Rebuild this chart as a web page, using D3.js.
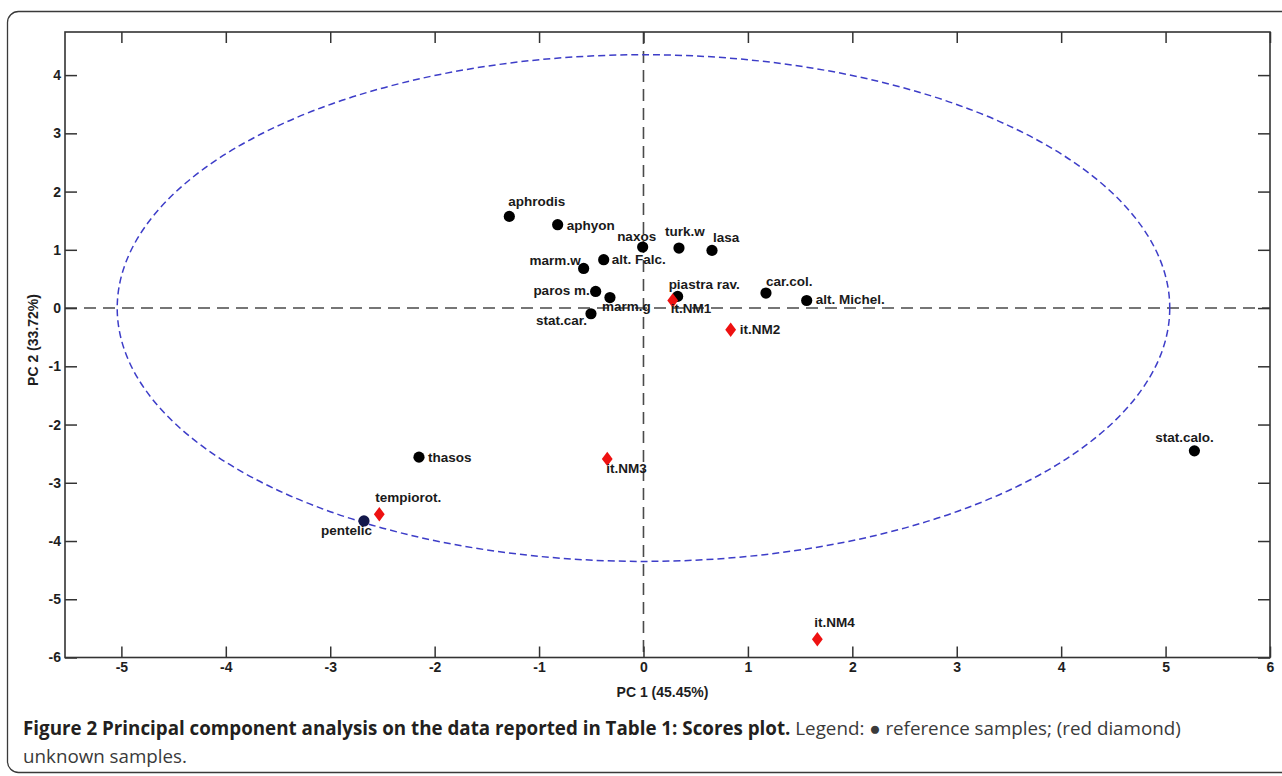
<!DOCTYPE html>
<html>
<head>
<meta charset="utf-8">
<script src="https://cdn.jsdelivr.net/npm/d3@7"></script>
<style>
  html, body { margin: 0; padding: 0; background: #fff; }
  svg { display: block; }
</style>
</head>
<body>
<svg id="chart" width="1282" height="776"></svg>
<script>
// ---- data ----
const refNames = ["aphrodis","aphyon","naxos","turk.w","lasa","marm.w","alt. Falc.","paros m.","marm.g","stat.car.","piastra rav.","car.col.","alt. Michel.","stat.calo.","thasos","pentelic"];
const refPC1   = [-1.285,-0.822,-0.008,0.34,0.656,-0.573,-0.381,-0.458,-0.321,-0.503,0.327,1.173,1.563,5.276,-2.15,-2.677];
const refPC2   = [1.574,1.431,1.048,1.03,0.99,0.68,0.83,0.285,0.18,-0.098,0.2,0.258,0.13,-2.452,-2.56,-3.655];

const unkNames = ["it.NM1","it.NM2","it.NM3","tempiorot.","it.NM4"];
const unkPC1   = [0.28,0.835,-0.347,-2.53,1.665];
const unkPC2   = [0.13,-0.373,-2.59,-3.54,-5.687];

const xTicks = [-5,-4,-3,-2,-1,0,1,2,3,4,5,6];
const yTicks = [-6,-5,-4,-3,-2,-1,0,1,2,3,4];
const ellipseRadii = [5.04, 4.35]; // confidence ellipse semi-axes (PC1, PC2)

const xTitle = "PC 1 (45.45%)";
const yTitle = "PC 2 (33.72%)";
const captionBold = "Figure 2 Principal component analysis on the data reported in Table 1: Scores plot.";
const captionRest = " Legend: \u25CF reference samples; (red diamond)";
const captionLine2 = "unknown samples.";

// label placement relative to marker (layout, not data)
const labelPlace = {
  "aphrodis":[-1,-10,"start"], "aphyon":[9,5,"start"], "naxos":[-6,-6,"middle"],
  "turk.w":[6,-12,"middle"], "lasa":[1,-8,"start"], "marm.w":[-3,-3,"end"],
  "alt. Falc.":[8,4,"start"], "paros m.":[-6,4,"end"], "marm.g":[-8,13,"start"],
  "stat.car.":[-4,11,"end"], "piastra rav.":[-9,-7,"start"], "car.col.":[0,-7,"start"],
  "alt. Michel.":[9,4,"start"], "stat.calo.":[-10,-9,"middle"], "thasos":[9,5,"start"],
  "pentelic":[8,14,"end"], "it.NM1":[-2,13,"start"], "it.NM2":[9,4,"start"],
  "it.NM3":[-1,14,"start"], "tempiorot.":[-4,-12,"start"], "it.NM4":[-3,-12,"start"]
};

// ---- layout ----
const svg = d3.select("#chart");
const L = 65, R = 1270, T = 32, B = 657.5;
const x = d3.scaleLinear().domain([-5.54, 6]).range([L, R]);
const y = d3.scaleLinear().domain([-6, 4.74]).range([B, T]);
const axisFont = "'Liberation Sans', Arial, sans-serif";

// outer rounded border
svg.append("rect").attr("x", 7.5).attr("y", 11.5).attr("width", 1290).attr("height", 761)
  .attr("rx", 11).attr("fill", "none").attr("stroke", "#3a3a3a").attr("stroke-width", 1.3);

// zero lines
svg.append("line").attr("x1", L).attr("x2", R).attr("y1", y(0)).attr("y2", y(0))
  .attr("stroke", "#4a4a4a").attr("stroke-width", 1.6).attr("stroke-dasharray", "12,7");
svg.append("line").attr("x1", x(0)).attr("x2", x(0)).attr("y1", T).attr("y2", B)
  .attr("stroke", "#4a4a4a").attr("stroke-width", 1.6).attr("stroke-dasharray", "12,7");

// axes (inward ticks on all sides)
const fmt = d => String(d);
function styleAxis(g) {
  g.select(".domain").remove();
  g.selectAll(".tick line").attr("stroke", "#333").attr("stroke-width", 1.5);
  g.selectAll(".tick text").attr("fill", "#1e1e1e").attr("font-family", axisFont)
    .attr("font-weight", "bold").attr("font-size", 14);
}
svg.append("g").attr("transform", `translate(0,${B})`)
  .call(d3.axisBottom(x).tickValues(xTicks).tickFormat(fmt).tickSizeInner(-11).tickSizeOuter(0).tickPadding(5))
  .call(styleAxis);
svg.append("g").attr("transform", `translate(0,${T})`)
  .call(d3.axisTop(x).tickValues(xTicks).tickFormat("").tickSizeInner(-11).tickSizeOuter(0))
  .call(styleAxis);
svg.append("g").attr("transform", `translate(${L},0)`)
  .call(d3.axisLeft(y).tickValues(yTicks).tickFormat(fmt).tickSizeInner(-12).tickSizeOuter(0).tickPadding(4))
  .call(styleAxis);
svg.append("g").attr("transform", `translate(${R},0)`)
  .call(d3.axisRight(y).tickValues(yTicks).tickFormat("").tickSizeInner(-12).tickSizeOuter(0))
  .call(styleAxis);

// frame
svg.append("rect").attr("x", L).attr("y", T).attr("width", R - L).attr("height", B - T)
  .attr("fill", "none").attr("stroke", "#333").attr("stroke-width", 1.6);

// ellipse
svg.append("ellipse").attr("cx", x(0)).attr("cy", y(0))
  .attr("rx", x(ellipseRadii[0]) - x(0)).attr("ry", y(0) - y(ellipseRadii[1]))
  .attr("fill", "none").attr("stroke", "#3d3dc8").attr("stroke-width", 1.5)
  .attr("stroke-dasharray", "7,4");

// data
const refData = refNames.map((n, i) => ({name: n, pc1: refPC1[i], pc2: refPC2[i]}));
const unkData = unkNames.map((n, i) => ({name: n, pc1: unkPC1[i], pc2: unkPC2[i]}));

svg.append("g").selectAll("circle").data(refData).join("circle")
  .attr("cx", d => x(d.pc1)).attr("cy", d => y(d.pc2)).attr("r", 5.6)
  .attr("fill", d => d.name === "pentelic" ? "#14184a" : "#000");

const diamond = d3.symbol().type(d3.symbolDiamond).size(70);
svg.append("g").selectAll("path").data(unkData).join("path")
  .attr("transform", d => `translate(${x(d.pc1)},${y(d.pc2)}) scale(1.2,0.92)`)
  .attr("d", diamond).attr("fill", "#ee1111");

// labels
svg.append("g").selectAll("text").data(refData.concat(unkData)).join("text")
  .attr("x", d => x(d.pc1) + labelPlace[d.name][0])
  .attr("y", d => y(d.pc2) + labelPlace[d.name][1])
  .attr("text-anchor", d => labelPlace[d.name][2])
  .attr("font-family", axisFont).attr("font-weight", "bold").attr("font-size", 13.5)
  .attr("fill", "#1a1a1a").text(d => d.name);

// axis titles
svg.append("text").attr("x", 662.5).attr("y", 697).attr("text-anchor", "middle")
  .attr("font-family", axisFont).attr("font-weight", "bold").attr("font-size", 14)
  .attr("fill", "#1e1e1e").text(xTitle);
svg.append("text").attr("transform", "translate(38,340) rotate(-90)").attr("text-anchor", "middle")
  .attr("font-family", axisFont).attr("font-weight", "bold").attr("font-size", 14)
  .attr("fill", "#1e1e1e").text(yTitle);

// caption
const capFont = "'Open Sans', 'Noto Sans', sans-serif";
const cap = svg.append("text").attr("x", 23).attr("y", 735)
  .attr("font-family", capFont).attr("font-size", 16);
cap.append("tspan").attr("font-weight", "bold").attr("fill", "#231f20").text(captionBold);
cap.append("tspan").attr("fill", "#3a3a3a").text(captionRest);
const w = cap.node().getComputedTextLength();
const capSize = 16 * 1159 / w;
cap.attr("font-size", capSize);
svg.append("text").attr("x", 23).attr("y", 763)
  .attr("font-family", capFont).attr("font-size", capSize).attr("fill", "#3a3a3a").text(captionLine2);
</script>
</body>
</html>
